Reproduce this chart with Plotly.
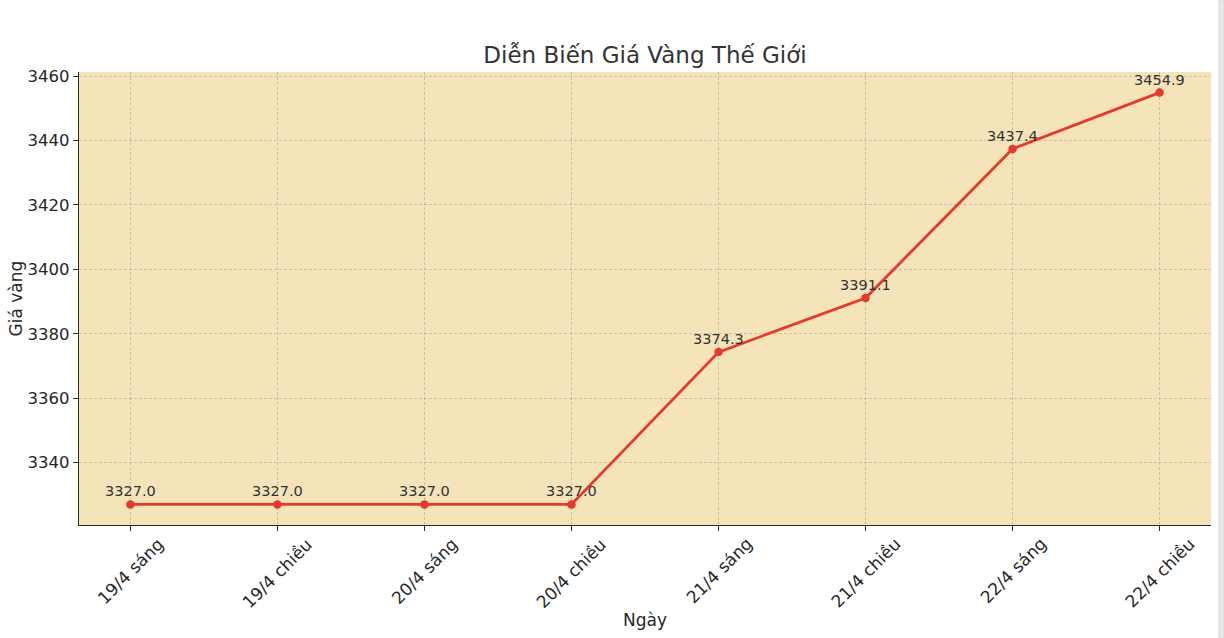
import plotly.graph_objects as go

categories = ["19/4 sáng", "19/4 chiều", "20/4 sáng", "20/4 chiều",
              "21/4 sáng", "21/4 chiều", "22/4 sáng", "22/4 chiều"]
prices = [3327.0, 3327.0, 3327.0, 3327.0, 3374.3, 3391.1, 3437.4, 3454.9]
y_ticks = [3340, 3360, 3380, 3400, 3420, 3440, 3460]

W, H = 1224, 638
L, R, T, B = 79, 13, 72, 113
plot_w = W - L - R
plot_h = H - T - B

FONT = "DejaVu Sans"
TXT = "#262626"
LINE = "#e5392b"
GRID = "rgba(140,140,140,0.40)"

xs = list(range(len(categories)))

fig = go.Figure()
fig.add_trace(go.Scatter(
    x=xs, y=prices, mode="lines+markers",
    line=dict(color=LINE, width=2.8),
    marker=dict(color=LINE, size=8.5),
    hoverinfo="skip", showlegend=False,
))

annotations = []
for xi, v in zip(xs, prices):
    annotations.append(dict(
        x=xi, y=v, xref="x", yref="y", text=f"{v:.1f}", showarrow=False,
        yanchor="bottom", xanchor="center", yshift=3,
        font=dict(family=FONT, size=14.5, color="#333333"),
    ))
for xi, c in zip(xs, categories):
    annotations.append(dict(
        x=xi, y=0, xref="x", yref="paper", text=c, showarrow=False,
        textangle=-45, xanchor="center", yanchor="top", yshift=-6,
        font=dict(family=FONT, size=17, color=TXT),
    ))
annotations.append(dict(
    x=-(L - 15) / plot_w, y=0.5, xref="paper", yref="paper", text="Giá vàng",
    showarrow=False, textangle=-90, xanchor="center", yanchor="middle",
    font=dict(family=FONT, size=17, color=TXT),
))
annotations.append(dict(
    x=0.5, y=-(620 - (H - B)) / plot_h, xref="paper", yref="paper", text="Ngày",
    showarrow=False, xanchor="center", yanchor="middle",
    font=dict(family=FONT, size=17, color=TXT),
))

shapes = [dict(
    type="rect", xref="paper", yref="paper",
    x0=(1219 - L) / plot_w, x1=(W - L) / plot_w,
    y0=-B / plot_h, y1=1 + T / plot_h,
    fillcolor="#e9e9e9", line=dict(color="#d6d6d6", width=1), layer="above",
)]

fig.update_layout(
    width=W, height=H,
    margin=dict(l=L, r=R, t=T, b=B),
    paper_bgcolor="white",
    plot_bgcolor="#f5e3b9",
    title=dict(text="Diễn Biến Giá Vàng Thế Giới", x=(L + plot_w / 2) / W,
               xanchor="center", y=1 - 55 / H, yanchor="middle",
               yref="container", xref="container",
               font=dict(family=FONT, size=23, color="#333333")),
    font=dict(family=FONT, color=TXT),
    annotations=annotations,
    shapes=shapes,
    xaxis=dict(
        range=[-0.35, 7.35], tickmode="array", tickvals=xs, ticktext=[""] * len(xs),
        showgrid=True, gridcolor=GRID, griddash="3px,2px", gridwidth=1,
        showline=True, linecolor="#2b2b2b", linewidth=1.3,
        ticks="outside", ticklen=5, tickcolor="#2b2b2b", zeroline=False,
    ),
    yaxis=dict(
        range=[3320.6, 3461.3], tickmode="array", tickvals=y_ticks,
        ticktext=[str(t) for t in y_ticks],
        showgrid=True, gridcolor=GRID, griddash="3px,2px", gridwidth=1,
        showline=True, linecolor="#2b2b2b", linewidth=1.3,
        ticks="outside", ticklen=5, tickcolor="#2b2b2b", zeroline=False,
        tickfont=dict(family=FONT, size=16.5, color=TXT),
    ),
)

fig.write_html("out.html", config={"displayModeBar": False},
               post_script="document.body.style.margin='0';document.body.style.overflow='hidden';")
